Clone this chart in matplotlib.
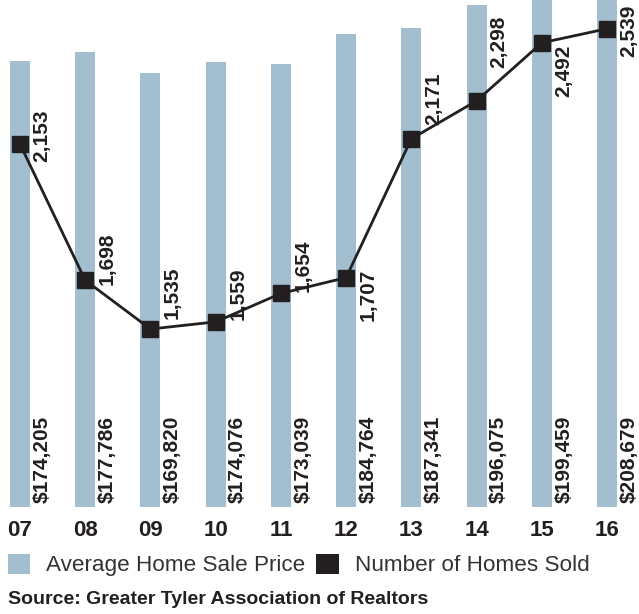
import matplotlib
matplotlib.use('Agg')
import matplotlib.pyplot as plt
from matplotlib.patches import Patch
from matplotlib.font_manager import FontProperties

plt.rcParams['font.family'] = ['Liberation Sans', 'DejaVu Sans']

#++++++++++++++++++++++++++++++++++++++++++++++
# Data
#++++++++++++++++++++++++++++++++++++++++++++++
years = ['07', '08', '09', '10', '11', '12', '13', '14', '15', '16']
avg_price = [174205, 177786, 169820, 174076, 173039, 184764, 187341, 196075, 199459, 208679]
homes_sold = [2153, 1698, 1535, 1559, 1654, 1707, 2171, 2298, 2492, 2539]

# vertical nudge (px) of each "homes sold" label relative to its marker
label_dy = [8, 22, 36, 28, 28, -17, 40, 59, -28, -2]

bar_color = '#a3bfcf'
dark = '#231f20'
bold = FontProperties(family='Liberation Sans', weight='bold', size=15)

fig = plt.figure(figsize=(6.39, 6.14), dpi=100)
ax = fig.add_axes([0, 107/614, 1, 507/614])
x = list(range(len(years)))

ax.bar(x, avg_price, width=0.307, color=bar_color, zorder=1)
ax.set_xlim(-0.307, 9.49)
ax.set_ylim(0, 198200)
ax.set_yticks([])
ax.set_xticks(x)
ax.set_xticklabels(years, fontproperties=FontProperties(family='Liberation Sans', weight='bold', size=16),
                   color=dark)
ax.tick_params(axis='x', length=0, pad=9)
for s in ax.spines.values():
    s.set_visible(False)

# price labels at the bottom of each bar
for i, v in enumerate(avg_price):
    ax.annotate(f"${v:,}", xy=(i, 0), xytext=(22*0.72, 4*0.72), textcoords='offset points',
                rotation=90, ha='center', va='bottom', fontproperties=bold, color=dark)

# homes sold line on twin axis
ax2 = ax.twinx()
ax2.plot(x, homes_sold, color=dark, linewidth=2, marker='s', markersize=11,
         markerfacecolor=dark, markeredgecolor=dark, zorder=3, clip_on=False)
ax2.set_ylim(940, 2635)
ax2.set_yticks([])
for s in ax2.spines.values():
    s.set_visible(False)

for i, (v, dy) in enumerate(zip(homes_sold, label_dy)):
    ax2.annotate(f"{v:,}", xy=(i, v), xytext=(22*0.72, dy*0.72), textcoords='offset points',
                 rotation=90, ha='center', va='center', fontproperties=bold, color=dark,
                 annotation_clip=False)

# legend
handles = [Patch(facecolor=bar_color, edgecolor='none', label='Average Home Sale Price'),
           Patch(facecolor=dark, edgecolor='none', label='Number of Homes Sold')]
fig.legend(handles=handles, loc='center left', bbox_to_anchor=(0.005, 1 - 565/614), ncol=2,
           frameon=False, fontsize=16.2, handlelength=1.0, handleheight=1.0,
           handletextpad=0.7, columnspacing=0.5, borderaxespad=0, borderpad=0.2,
           labelcolor='#333333')

fig.text(8/639, 1 - 600/614, 'Source: Greater Tyler Association of Realtors',
         fontproperties=FontProperties(family='Liberation Sans', weight='bold', size=14),
         color=dark, ha='left', va='center')

fig.savefig('out.png', dpi=100)
